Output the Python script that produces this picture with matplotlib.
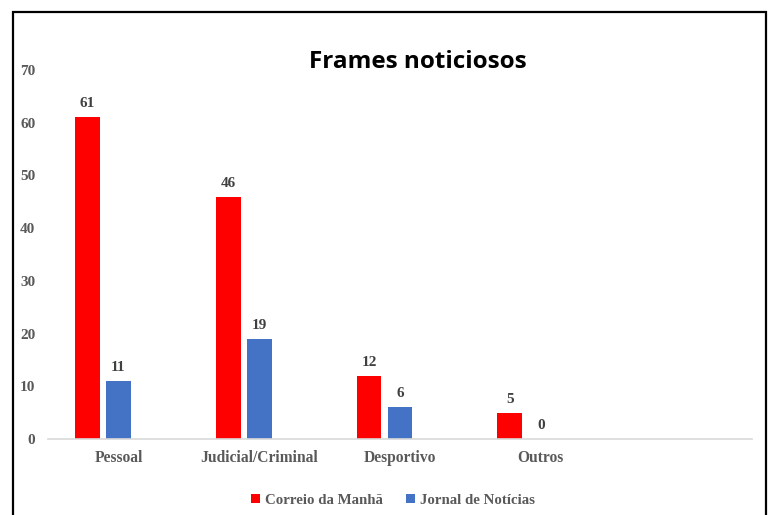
import matplotlib.pyplot as plt
from matplotlib.patches import Rectangle
import numpy as np

# dados
categorias = ["Pessoal", "Judicial/Criminal", "Desportivo", "Outros", ""]
correio_manha = [61, 46, 12, 5]
jornal_noticias = [11, 19, 6, 0]

cor_cm = "#FF0000"
cor_jn = "#4472C4"
cinza = "#595959"

fig = plt.figure(figsize=(7.71, 5.15), dpi=100)
ax = fig.add_axes([48 / 771, 76 / 515, 704 / 771, 369 / 515])

x = np.arange(len(correio_manha))
largura = 0.177
desloc = 0.22

b1 = ax.bar(x - desloc, correio_manha, largura, color=cor_cm, label="Correio da Manhã")
b2 = ax.bar(x, jornal_noticias, largura, color=cor_jn, label="Jornal de Notícias")

for barras in (b1, b2):
    for b in barras:
        ax.annotate(f"{int(b.get_height())}",
                    (b.get_x() + b.get_width() / 2, b.get_height()),
                    xytext=(0, 5), textcoords="offset points",
                    ha="center", va="bottom", fontsize=11, fontweight="bold",
                    family="Liberation Serif", color="#404040")

ax.set_xlim(-0.5, len(categorias) - 0.5)
ax.set_ylim(0, 70)
ax.set_yticks(range(0, 71, 10))
ax.set_xticks(range(len(categorias)))
ax.set_xticklabels(categorias)

for lbl in ax.get_yticklabels():
    lbl.set_family("Liberation Serif")
    lbl.set_fontweight("bold")
    lbl.set_fontsize(11)
    lbl.set_color(cinza)
for lbl in ax.get_xticklabels():
    lbl.set_family("Liberation Serif")
    lbl.set_fontweight("bold")
    lbl.set_fontsize(11.2)
    lbl.set_color(cinza)

ax.tick_params(axis="both", length=0)
ax.tick_params(axis="y", pad=9)
ax.tick_params(axis="x", pad=8)

for s in ("top", "right", "left"):
    ax.spines[s].set_visible(False)
ax.spines["bottom"].set_color("#D9D9D9")
ax.spines["bottom"].set_linewidth(1.2)

fig.text(418 / 771, 1 - 62 / 515, "Frames noticiosos", ha="center", va="center",
         fontsize=17.5, fontweight="bold", family="Open Sans", color="black")

leg = fig.legend(handles=[b1, b2], loc="center", bbox_to_anchor=(393 / 771, 1 - 500 / 515),
                 ncol=2, frameon=False, handlelength=0.6, handleheight=0.6,
                 handletextpad=0.3, columnspacing=1.6,
                 prop={"family": "Liberation Serif", "weight": "bold", "size": 10.7})
for t in leg.get_texts():
    t.set_color(cinza)

# moldura
fig.patches.append(Rectangle((13 / 771, -0.05), 753 / 771, 1.05 - 12 / 515,
                             transform=fig.transFigure, fill=False,
                             edgecolor="black", linewidth=1.6, clip_on=False))

fig.savefig("out.png", dpi=100)
